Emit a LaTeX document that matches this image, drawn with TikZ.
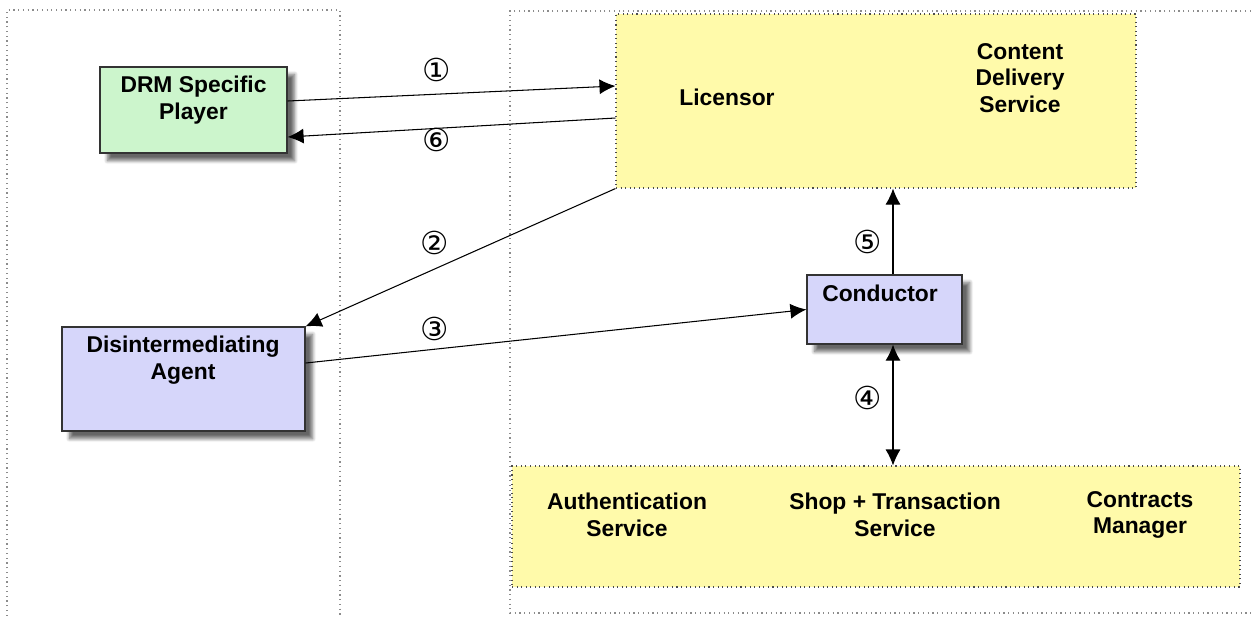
\documentclass[tikz,border=0pt]{standalone}
\usepackage{fontspec}
\setmainfont{Liberation Sans}
\newfontfamily\numfont{DejaVu Sans}
\usepackage{tikz}
\usetikzlibrary{calc,arrows.meta,shadows.blur}

\definecolor{playergreen}{RGB}{204,245,204}
\definecolor{agentblue}{RGB}{214,214,250}
\definecolor{serviceyellow}{RGB}{255,250,170}

\begin{document}
\begin{tikzpicture}[>={Latex[length=3.2mm,width=3mm]}, line width=0.6pt,
  every node/.style={font=\fontsize{13}{15.2}\selectfont\bfseries, align=center},
  actor/.style={draw=black!80, line width=0.7pt, rectangle,
    blur shadow={shadow xshift=0.15cm, shadow yshift=-0.15cm, shadow blur steps=8, shadow opacity=60}},
  service/.style={draw=black!70, dotted, line width=0.6pt, fill=serviceyellow, rectangle},
  num/.style={font=\fontsize{18}{18}\selectfont\numfont\mdseries}]
\useasboundingbox (0,0) rectangle (25.04,-12.34);
\clip (0,0) rectangle (25.04,-12.34);
% the two dotted areas
\draw[black!45, dotted, line width=0.7pt] (0.14,-12.6) -- (0.14,-0.2) -- (6.8,-0.2) -- (6.8,-12.6);
\draw[black!45, dotted, line width=0.7pt] (25.3,-0.22) -- (10.2,-0.22) -- (10.2,-12.26) -- (25.3,-12.26);
% boxes
\node[actor, fill=playergreen, minimum width=3.74cm, minimum height=1.72cm] (player) at (3.87,-2.2) {};
\node (playertxt) at (3.87,-2.0) {DRM Specific\\Player};
\node[actor, fill=agentblue, minimum width=4.86cm, minimum height=2.08cm] (agent) at (3.67,-7.58) {};
\node (agenttxt) at (3.66,-7.2) {Disintermediating\\Agent};
\node[actor, fill=agentblue, minimum width=3.1cm, minimum height=1.38cm] (cond) at (17.69,-6.19) {};
\node (condtxt) at (17.6,-5.86) {Conductor};
\node[service, minimum width=10.4cm, minimum height=3.48cm] (lic) at (17.52,-2.02) {};
\node (lictxt) at (14.54,-1.94) {Licensor};
\node (cdstxt) at (20.4,-1.56) {Content\\Delivery\\Service};
\node[service, minimum width=14.56cm, minimum height=2.42cm] (base) at (17.52,-10.53) {};
\node (authtxt) at (12.54,-10.3) {Authentication\\Service};
\node (shoptxt) at (17.9,-10.3) {Shop + Transaction\\Service};
\node (contrtxt) at (22.8,-10.3) {Contracts\\Manager};
% message flow
\draw[->] ($(player.east)+(0,0.18)$) -- ($(lic.west)+(0,0.3)$);
\node[num] (n1) at (8.74,-1.4) {①};
\draw[->] ($(lic.west)+(0,-0.34)$) -- ($(player.east)+(0,-0.54)$);
\node[num] (n6) at (8.74,-2.8) {⑥};
\draw[->] (lic.south west) -- (agent.north east);
\node[num] (n2) at (8.7,-4.86) {②};
\draw[->] ($(agent.east)+(0,0.32)$) -- (cond.west);
\node[num] (n3) at (8.7,-6.58) {③};
\coordinate (c5) at ($(cond.north)+(0.17,0)$);
\draw[->] (c5) -- (c5 |- lic.south);
\node[num] (n5) at (17.36,-4.84) {⑤};
\coordinate (c4) at ($(cond.south)+(0.17,0)$);
\draw[<->] (c4) -- (c4 |- base.north);
\node[num] (n4) at (17.36,-7.96) {④};
\end{tikzpicture}
\end{document}
